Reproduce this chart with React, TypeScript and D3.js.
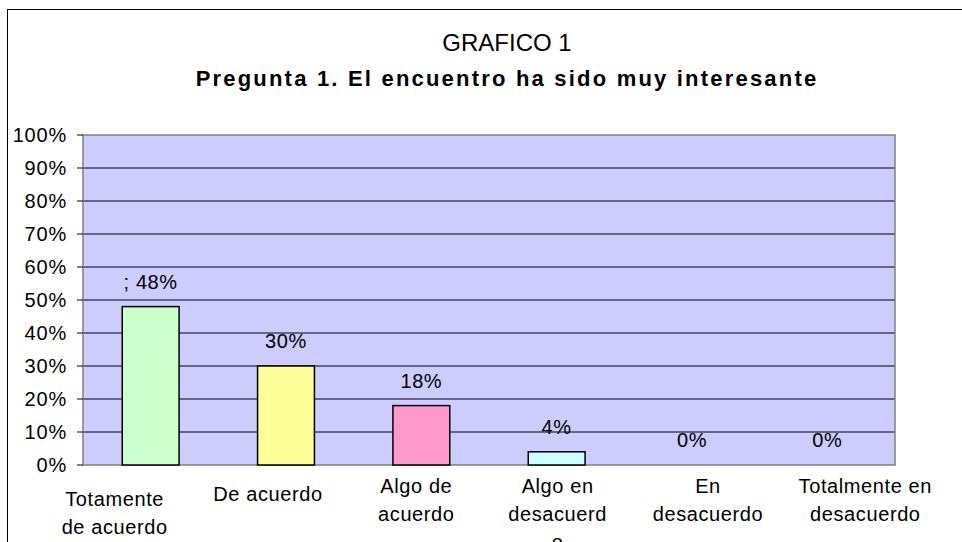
import React from "react";
import * as d3 from "d3";

const categories = [
  "Totamente de acuerdo",
  "De acuerdo",
  "Algo de acuerdo",
  "Algo en desacuerdo",
  "En desacuerdo",
  "Totalmente en desacuerdo",
];
const categoryLines = [
  ["Totamente", "de acuerdo"],
  ["De acuerdo"],
  ["Algo de", "acuerdo"],
  ["Algo en", "desacuerd", "o"],
  ["En", "desacuerdo"],
  ["Totalmente en", "desacuerdo"],
];
const values = [0.48, 0.3, 0.18, 0.04, 0, 0];
const valueLabels = ["; 48%", "30%", "18%", "4%", "0%", "0%"];
const barColors = ["#CCFFCC", "#FFFF99", "#FF99CC", "#CCFFFF", "#99CCFF", "#CC99FF"];
const yTicks = [0, 0.1, 0.2, 0.3, 0.4, 0.5, 0.6, 0.7, 0.8, 0.9, 1];
const titleLine1 = "GRAFICO 1";
const titleLine2 = "Pregunta 1. El encuentro ha sido muy interesante";

// layout constants (not data)
const labelShift = [-36, -18, -5, 1, 16, 38];
const labelTop = [41, 36, 28, 28, 28, 28];

const W = 962;
const H = 542;
const plot = { left: 83, right: 895, top: 135, bottom: 465 };
const FONT = "'Liberation Sans', Arial, sans-serif";

export default function App() {
  const x = d3
    .scaleBand<string>()
    .domain(categories)
    .range([plot.left, plot.right])
    .paddingInner(0.58)
    .paddingOuter(0.29);
  const y = d3.scaleLinear().domain([0, 1]).range([plot.bottom, plot.top]);
  const fmt = d3.format(".0%");

  return (
    <svg
      width={W}
      height={H}
      style={{ position: "absolute", left: 0, top: 0, display: "block", background: "#fff" }}
      fontFamily={FONT}
    >
      <rect x={7.5} y={9.5} width={1100} height={700} fill="#fff" stroke="#000" strokeWidth={1} />
      <text x={507} y={51} textAnchor="middle" fontSize={24} fill="#000">
        {titleLine1}
      </text>
      <text x={507} y={86} textAnchor="middle" fontSize={22} fontWeight="bold" letterSpacing={2.2} fill="#000">
        {titleLine2}
      </text>

      <rect
        x={plot.left}
        y={plot.top}
        width={plot.right - plot.left}
        height={plot.bottom - plot.top}
        fill="#CCCCFF"
      />
      {yTicks
        .filter((t) => t > 0 && t < 1)
        .map((t) => (
          <line key={"g" + t} x1={plot.left} x2={plot.right} y1={y(t)} y2={y(t)} stroke="#000" strokeWidth={1} />
        ))}
      <rect
        x={plot.left}
        y={plot.top}
        width={plot.right - plot.left}
        height={plot.bottom - plot.top}
        fill="none"
        stroke="#808080"
        strokeWidth={1.5}
      />
      {yTicks.map((t) => (
        <g key={"t" + t}>
          <line x1={plot.left - 6} x2={plot.left} y1={y(t)} y2={y(t)} stroke="#000" strokeWidth={1} />
          <text x={67} y={y(t)} dy="0.36em" textAnchor="end" fontSize={20} letterSpacing={0.8} fill="#000">
            {fmt(t)}
          </text>
        </g>
      ))}

      {categories.map((c, i) => {
        const bx = x(c)!;
        const bw = x.bandwidth();
        const top = y(values[i]);
        return (
          <g key={c}>
            {values[i] > 0 && (
              <rect
                x={bx}
                y={top}
                width={bw}
                height={plot.bottom - top}
                fill={barColors[i]}
                stroke="#000"
                strokeWidth={1.5}
              />
            )}
            <text x={bx + bw / 2} y={top - 18} textAnchor="middle" fontSize={20} letterSpacing={0.6} fill="#000">
              {valueLabels[i]}
            </text>
            {categoryLines[i].map((ln, j) => (
              <text
                key={j}
                x={bx + bw / 2 + labelShift[i]}
                y={plot.bottom + labelTop[i] + j * 28}
                textAnchor="middle"
                fontSize={20}
                letterSpacing={0.6}
                fill="#000"
              >
                {ln}
              </text>
            ))}
          </g>
        );
      })}
    </svg>
  );
}
